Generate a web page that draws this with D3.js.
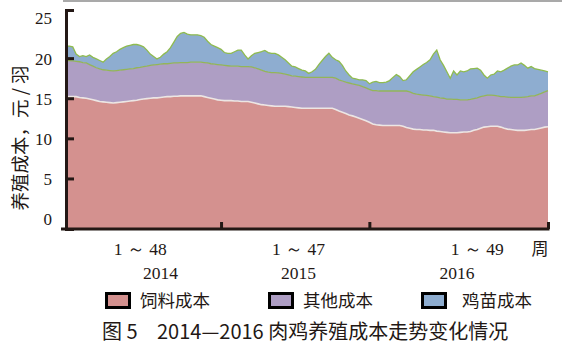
<!DOCTYPE html>
<html>
<head>
<meta charset="utf-8">
<script src="https://cdn.jsdelivr.net/npm/d3@7"></script>
<style>
  body { margin: 0; background: #fff; }
  svg { display: block; }
  .num { font-family: "Liberation Serif", "Times New Roman", serif; font-size: 17px; fill: #231815; }
  .cjk { font-family: "Noto Sans CJK SC", sans-serif; fill: #231815; }
</style>
</head>
<body>
<div id="chart"></div>
<script>
// years and week ranges shown under the x axis
var years = ["2014", "2015", "2016"];
var weekRanges = ["1 ～ 48", "1 ～ 47", "1 ～ 49"];
var yTicks = [0, 5, 10, 15, 20, 25];
var seriesNames = ["饲料成本", "其他成本", "鸡苗成本"];

// weekly costs, 元/羽 (48 + 47 + 49 = 144 weeks)
var feedCost = [15.2,15.2,15.2,15.2,15.1,15.05,15.0,14.9,14.8,14.7,
  14.6,14.55,14.5,14.45,14.4,14.45,14.5,14.55,14.6,14.65,
  14.7,14.75,14.85,14.9,14.95,15.0,15.05,15.05,15.1,15.15,
  15.2,15.2,15.25,15.25,15.3,15.3,15.3,15.3,15.3,15.3,
  15.3,15.2,15.1,15.0,14.9,14.8,14.75,14.7,14.7,14.7,
  14.65,14.65,14.6,14.6,14.6,14.5,14.4,14.3,14.2,14.15,
  14.1,14.05,14.0,14.0,14.0,14.0,13.95,13.9,13.85,13.8,
  13.75,13.75,13.75,13.75,13.75,13.75,13.75,13.75,13.75,13.75,
  13.6,13.4,13.25,13.1,12.9,12.8,12.65,12.5,12.35,12.2,
  12.0,11.8,11.7,11.65,11.6,11.6,11.6,11.6,11.6,11.6,
  11.5,11.35,11.25,11.15,11.1,11.1,11.05,11.05,11.0,11.0,
  10.9,10.85,10.8,10.75,10.7,10.7,10.7,10.75,10.8,10.8,
  10.85,11.0,11.1,11.25,11.4,11.45,11.5,11.5,11.5,11.4,
  11.25,11.15,11.1,11.05,11.0,11.0,11.0,11.05,11.1,11.1,
  11.2,11.3,11.4,11.45];

var otherCost = [4.5,4.5,4.45,4.4,4.45,4.4,4.4,4.3,4.2,4.1,
  4.05,4.0,4.0,4.0,4.0,4.0,4.0,4.0,4.0,4.0,
  4.0,4.05,4.0,4.05,4.05,4.1,4.1,4.15,4.15,4.15,
  4.1,4.15,4.15,4.15,4.15,4.15,4.15,4.2,4.2,4.2,
  4.2,4.25,4.3,4.3,4.35,4.4,4.4,4.4,4.35,4.3,
  4.35,4.35,4.35,4.35,4.35,4.4,4.4,4.35,4.3,4.2,
  4.15,4.15,4.2,4.15,4.1,4.0,3.95,3.9,3.9,3.9,
  3.9,3.85,3.85,3.85,3.85,3.85,3.85,3.85,3.85,3.85,
  3.9,3.9,3.9,3.9,4.0,4.0,4.05,4.1,4.1,4.1,
  4.1,4.15,4.25,4.25,4.3,4.3,4.3,4.3,4.3,4.3,
  4.4,4.55,4.55,4.45,4.4,4.35,4.35,4.3,4.3,4.2,
  4.25,4.2,4.2,4.15,4.2,4.15,4.15,4.05,4.0,4.0,
  4.0,3.95,3.95,3.95,3.9,3.95,3.9,3.85,3.8,3.8,
  3.95,4.0,4.0,4.05,4.1,4.1,4.15,4.15,4.2,4.2,
  4.25,4.3,4.4,4.5];

var chickCost = [1.8,1.8,1.75,0.9,0.65,0.85,0.8,1.2,1.1,1.1,
  1.05,0.95,1.4,1.75,2.2,2.35,2.6,2.75,2.9,2.95,
  3.0,2.9,2.75,2.45,2.0,1.4,1.05,0.7,0.85,1.2,
  1.5,1.95,2.6,3.3,3.65,3.75,3.55,3.4,3.4,3.4,
  3.3,3.15,2.7,2.4,2.25,2.1,1.95,1.6,1.55,1.6,
  1.8,2.0,2.05,1.45,0.95,1.4,1.8,2.05,2.3,2.6,
  2.45,2.4,2.4,2.25,2.0,1.8,1.5,1.2,1.15,1.0,
  0.85,0.8,0.5,0.7,1.0,1.6,2.1,2.6,3.0,2.5,
  2.3,2.3,1.95,1.4,1.0,0.7,0.7,0.7,0.85,0.9,
  0.7,1.05,1.15,1.05,1.05,1.1,1.3,1.7,2.05,1.8,
  1.3,1.4,2.0,2.7,3.1,3.45,3.8,4.1,4.5,5.3,
  5.85,4.75,4.1,3.4,2.6,3.55,3.05,3.6,3.5,3.6,
  3.8,3.75,3.7,3.3,2.6,2.1,2.5,2.65,3.1,3.1,
  3.3,3.6,3.9,4.05,4.05,4.3,3.95,3.55,3.65,3.4,
  3.15,2.9,2.6,2.35];

// layout
var W = 562, H = 352;
var plot = {left: 66, right: 548, top: 10, bottom: 229};
var ink = "#231815";
var colors = ["#d4918f", "#ae9ec4", "#8eadd0"];
var edgeColors = ["#ece6e4", "#93b558", "#8fbb4f"];
// where the year boundary ticks and the labels sit, in week index
var breakIdx = [46, 90, 143];
var weekLabelIdx = [22, 69, 122];
var yearLabelIdx = [28, 69, 116];

var svg = d3.select("#chart").append("svg")
    .attr("width", W)
    .attr("height", H);

// thin page rule at the top
svg.append("line")
    .attr("x1", 63).attr("x2", W)
    .attr("y1", 1).attr("y2", 1)
    .attr("stroke", "#8c8c8c")
    .attr("stroke-width", 1.5);

var data = feedCost.map(function (d, i) {
    return {week: i, feed: d, other: otherCost[i], chick: chickCost[i]};
});
var keys = ["feed", "other", "chick"];
var stacked = d3.stack().keys(keys)(data);

var x = d3.scaleLinear()
    .domain([0, data.length - 1])
    .range([plot.left, plot.right]);

var y = d3.scaleLinear()
    .domain([-1.3, 26])
    .range([plot.bottom, plot.top]);

// areas
var area = d3.area()
    .x(function (d) { return x(d.data.week); })
    .y0(function (d, i) { return d[0] === 0 ? y.range()[0] : y(d[0]); })
    .y1(function (d) { return y(d[1]); });

svg.append("g").selectAll("path")
    .data(stacked)
    .enter()
    .append("path")
    .attr("fill", function (d, i) { return colors[i]; })
    .attr("d", area);

// top edge of each layer
var edge = d3.line()
    .x(function (d) { return x(d.data.week); })
    .y(function (d) { return y(d[1]); });

svg.append("g").selectAll("path")
    .data(stacked)
    .enter()
    .append("path")
    .attr("fill", "none")
    .attr("stroke", function (d, i) { return edgeColors[i]; })
    .attr("stroke-width", function (d, i) { return i == 0 ? 1.6 : 1.3; })
    .attr("d", edge);

// Y axis
var yAxis = svg.append("g")
    .attr("transform", "translate(" + plot.left + ",0)")
    .call(d3.axisLeft(y).tickValues(yTicks).tickSize(-8).tickSizeOuter(-8).tickPadding(14));
yAxis.select(".domain").attr("stroke", ink).attr("stroke-width", 3);
yAxis.selectAll(".tick line").attr("stroke", ink).attr("stroke-width", 3)
    .attr("display", function (d) { return (d == 5 || d == 10 || d == 15 || d == 20) ? null : "none"; });
yAxis.selectAll(".tick text")
    .attr("class", "num")
    .attr("font-family", null).attr("font-size", null)
    .attr("fill", ink)
    .attr("dy", "0.35em");

// X axis
var xAxis = svg.append("g")
    .attr("transform", "translate(0," + plot.bottom + ")")
    .call(d3.axisBottom(x).tickValues(breakIdx).tickSize(-7).tickSizeOuter(0).tickFormat(""));
xAxis.select(".domain").remove();
xAxis.selectAll(".tick line").attr("stroke", ink).attr("stroke-width", 3);
xAxis.append("line")
    .attr("x1", x.range()[0] - 5).attr("x2", x.range()[1] + 1.5)
    .attr("stroke", ink)
    .attr("stroke-width", 3);

// week ranges and years under the axis
svg.selectAll(".wk")
    .data(weekRanges)
    .enter()
    .append("text")
    .attr("class", "num")
    .attr("x", function (d, i) { return x(weekLabelIdx[i]); })
    .attr("y", 255)
    .attr("text-anchor", "middle")
    .style("font-size", "17.5px")
    .text(function (d) { return d; });

svg.selectAll(".yr")
    .data(years)
    .enter()
    .append("text")
    .attr("class", "num")
    .attr("x", function (d, i) { return x(yearLabelIdx[i]); })
    .attr("y", 279)
    .attr("text-anchor", "middle")
    .style("font-size", "17.5px")
    .text(function (d) { return d; });

svg.append("text")
    .attr("class", "cjk")
    .attr("x", 540)
    .attr("y", 255)
    .attr("text-anchor", "middle")
    .attr("font-size", 17)
    .text("周");

// Y axis label
svg.append("text")
    .attr("class", "cjk")
    .attr("transform", "translate(27,138) rotate(-90)")
    .attr("text-anchor", "middle")
    .attr("font-size", 18.5)
    .text("养殖成本，元 / 羽");

// legend
var legendX = [105, 268, 421];
var lg = svg.selectAll(".lg")
    .data(seriesNames)
    .enter()
    .append("g")
    .attr("transform", function (d, i) { return "translate(" + legendX[i] + ",292)"; });
lg.append("rect")
    .attr("x", 1.5).attr("y", 1.5)
    .attr("width", 23).attr("height", 14)
    .attr("fill", function (d, i) { return colors[i]; })
    .attr("stroke", "#000")
    .attr("stroke-width", 3);
lg.append("text")
    .attr("class", "cjk")
    .attr("x", function (d, i) { return i == 2 ? 41 : 35; })
    .attr("y", 8.5)
    .attr("dy", "0.35em")
    .attr("font-size", 17.5)
    .text(function (d) { return d; });

// caption
svg.append("text")
    .attr("class", "cjk")
    .attr("x", 102)
    .attr("y", 339)
    .attr("font-size", 20)
    .text("图 5");
svg.append("text")
    .attr("class", "cjk")
    .attr("x", 157)
    .attr("y", 339)
    .attr("font-size", 20)
    .text("2014—2016 肉鸡养殖成本走势变化情况");
</script>
</body>
</html>
